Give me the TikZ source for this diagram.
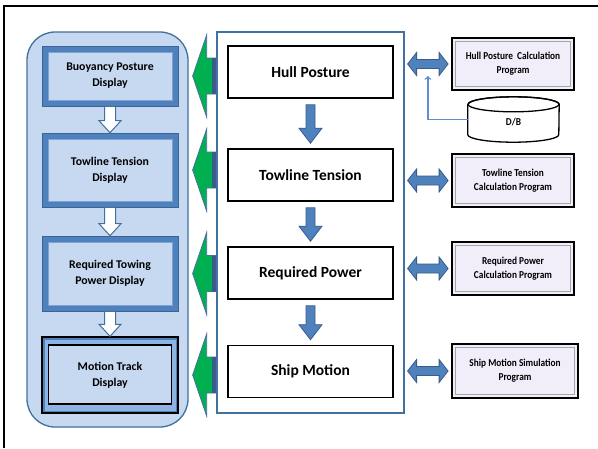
\documentclass[tikz,border=0pt]{standalone}
\usepackage{fontspec}
\setmainfont{Carlito}
\newfontfamily\narrowf[FakeStretch=0.88]{Carlito}
\usetikzlibrary{calc}
\definecolor{panelfill}{HTML}{C6D9F1}
\definecolor{panelline}{HTML}{41719C}
\definecolor{dispblue}{HTML}{4F81BD}
\definecolor{dispdark}{HTML}{3A6496}
\definecolor{innerline}{HTML}{7EA3D2}
\definecolor{bandlight}{HTML}{8DB4E2}
\definecolor{arrowblue}{HTML}{4F81BD}
\definecolor{arrowline}{HTML}{385D8A}
\definecolor{greenfill}{HTML}{00B050}
\definecolor{greenline}{HTML}{4A6FA0}
\definecolor{lav}{HTML}{F1EEF9}
\definecolor{lavline}{HTML}{A6A6A6}
\definecolor{linkblue}{HTML}{5B8FD0}

\newcommand\vblock[6]{\draw[#1] let \p1=#2, \p2=#3 in
  (\x1-#4,\y1) -- (\x1+#4,\y1) -- (\x1+#4,\y2+#6) -- (\x1+#5,\y2+#6) -- (\x1,\y2)
  -- (\x1-#5,\y2+#6) -- (\x1-#4,\y2+#6) -- cycle;}
\newcommand\hdbl[6]{\draw[#1] let \p1=#2, \p2=#3 in
  (\x1,\y1) -- (\x1+#6,\y1+#5) -- (\x1+#6,\y1+#4) -- (\x2-#6,\y1+#4) -- (\x2-#6,\y1+#5)
  -- (\x2,\y1) -- (\x2-#6,\y1-#5) -- (\x2-#6,\y1-#4) -- (\x1+#6,\y1-#4) -- (\x1+#6,\y1-#5) -- cycle;}
\newcommand\garrow[2]{%
  \draw[greenarrow] let \p1=#1, \p2=#2 in
  (\x1,\y1) -- (\x1+14pt,\y1+41pt) -- (\x1+14pt,\y1+18pt) -- (\x2,\y1+18pt)
  -- (\x2,\y1-18pt) -- (\x1+14pt,\y1-18pt) -- (\x1+14pt,\y1-41pt) -- cycle;
  \fill[arrowline] let \p1=#1, \p2=#2 in (\x2-4.5pt,\y1-18pt) rectangle (\x2,\y1+18pt);}

\begin{document}
\begin{tikzpicture}[x=1pt,y=-1pt,
  panel/.style={draw=panelline, line width=1.3pt, fill=panelfill, rounded corners=28pt, minimum width=161pt, minimum height=395pt, inner sep=0pt},
  cpanel/.style={draw=panelline, line width=1.2pt, fill=white, minimum width=187pt, minimum height=381pt, inner sep=0pt},
  disp/.style={draw=dispdark, line width=0.6pt, fill=dispblue, minimum width=136pt, inner sep=0pt, align=center,
    font=\fontsize{11.8}{16}\selectfont\bfseries,
    path picture={\draw[innerline, line width=0.8pt, fill=panelfill]
      ([shift={(6pt,-6pt)}]path picture bounding box.north west) rectangle
      ([shift={(-6pt,6pt)}]path picture bounding box.south east);}},
  dispb/.style={draw=black, line width=1.4pt, fill=dispblue, minimum width=136pt, inner sep=0pt, align=center,
    font=\fontsize{11.8}{16}\selectfont\bfseries,
    path picture={\fill[bandlight]
      ([shift={(2.5pt,-2.5pt)}]path picture bounding box.north west) rectangle
      ([shift={(-2.5pt,2.5pt)}]path picture bounding box.south east);
      \draw[black, line width=1.5pt, fill=panelfill]
      ([shift={(6.5pt,-8pt)}]path picture bounding box.north west) rectangle
      ([shift={(-6.5pt,9pt)}]path picture bounding box.south east);}},
  cbox/.style={draw=black, line width=1.6pt, fill=white, minimum width=165pt, minimum height=52pt, inner sep=0pt,
    font=\fontsize{15.5}{18}\selectfont\bfseries},
  rbox/.style={draw=black, line width=1.8pt, fill=lav, minimum width=122pt, inner sep=0pt, align=center,
    font=\narrowf\fontsize{10.6}{14}\selectfont\bfseries,
    path picture={\draw[lavline, line width=0.9pt]
      ([shift={(3.5pt,-3.5pt)}]path picture bounding box.north west) rectangle
      ([shift={(-3.5pt,3.5pt)}]path picture bounding box.south east);}},
  hollow/.style={draw=panelline, line width=1pt, fill=white},
  bluearrow/.style={draw=arrowline, line width=0.8pt, fill=arrowblue},
  greenarrow/.style={draw=greenline, line width=0.8pt, fill=greenfill},
  dbline/.style={draw=linkblue, line width=1.4pt}
]
\useasboundingbox (0,0) rectangle (598,448);
\fill[white] (0,0) rectangle (598,448);
\draw[line width=1.4pt] (4,448) -- (4,6) -- (598,6);

% panels
\node[panel] (lp) at (107.5,229.5) {};
\node[cpanel] (cp) at (310.5,222.5) {};

% display boxes
\node[disp, minimum height=60pt] (d1) at (110,76) {Buoyancy Posture\\Display};
\node[disp, minimum height=74pt] (d2) at (110,170) {Towline Tension\\Display};
\node[disp, minimum height=75pt] (d3) at (110,273.5) {Required Towing\\Power Display};
\node[dispb, minimum height=76pt] (d4) at (110,375) {Motion Track\\Display};

% central boxes
\node[cbox] (h1) at (310.5,72) {Hull Posture};
\node[cbox] (h2) at (310.5,175) {Towline Tension};
\node[cbox] (h3) at (310.5,273) {Required Power};
\node[cbox] (h4) at (310.5,371.5) {Ship Motion};

% right boxes
\node[rbox, minimum height=52pt] (r1) at (513,64) {Hull Posture\ \ Calculation\\Program};
\node[rbox, minimum height=53pt] (r2) at (513,180.5) {Towline Tension\\Calculation Program};
\node[rbox, minimum height=53pt] (r3) at (513,268.5) {Required Power\\Calculation Program};
\node[rbox, minimum height=54pt, minimum width=126pt] (r4) at (515,371) {Ship Motion Simulation\\Program};

% database cylinder
\node[minimum width=91pt, minimum height=30pt, inner sep=0pt] (db) at (513.5,119.5) {};
\draw[black, line width=1.3pt, fill=white] (db.north west) -- (db.south west)
  arc[start angle=180, end angle=360, x radius=45.5pt, y radius=7.5pt] -- (db.north east)
  arc[start angle=0, end angle=180, x radius=45.5pt, y radius=7.5pt];
\draw[black, line width=1.3pt] (db.north) ellipse[x radius=45.5pt, y radius=7.5pt];
\node[font=\narrowf\fontsize{10.6}{12}\selectfont\bfseries] (dbt) at ($(db.center)+(0,3)$) {D/B};

% hollow arrows between displays
\vblock{hollow}{(d1.south)}{(d2.north)}{5.5pt}{11pt}{12pt}
\vblock{hollow}{(d2.south)}{(d3.north)}{5.5pt}{11pt}{12pt}
\vblock{hollow}{(d3.south)}{(d4.north)}{5.5pt}{11pt}{12pt}

% blue arrows between central boxes
\vblock{bluearrow}{($(h1.south)+(0,6)$)}{($(h2.north)+(0,-5)$)}{4.5pt}{11.5pt}{15pt}
\vblock{bluearrow}{($(h2.south)+(0,6)$)}{($(h3.north)+(0,-5)$)}{4.5pt}{11.5pt}{15pt}
\vblock{bluearrow}{($(h3.south)+(0,6)$)}{($(h4.north)+(0,-5)$)}{4.5pt}{11.5pt}{15pt}

% green arrows
\garrow{($(lp.east |- d1.east)+(4,0)$)}{(cp.west |- d1.east)}
\garrow{($(lp.east |- d2.east)+(4,0)$)}{(cp.west |- d2.east)}
\garrow{($(lp.east |- d3.east)+(4,0)$)}{(cp.west |- d3.east)}
\garrow{($(lp.east |- d4.east)+(4,0)$)}{(cp.west |- d4.east)}

% double arrows
\hdbl{bluearrow}{($(cp.east |- r1.west)+(3,0)$)}{($(r1.west)+(-3,0)$)}{4.5pt}{11.5pt}{9pt}
\hdbl{bluearrow}{($(cp.east |- r2.west)+(3,0)$)}{($(r2.west)+(-3,0)$)}{4.5pt}{11.5pt}{9pt}
\hdbl{bluearrow}{($(cp.east |- r3.west)+(3,0)$)}{($(r3.west)+(-3,0)$)}{4.5pt}{11.5pt}{9pt}
\hdbl{bluearrow}{($(cp.east |- r4.west)+(3,0)$)}{($(r4.west)+(-3,0)$)}{4.5pt}{11.5pt}{9pt}

% D/B link
\coordinate (a1) at ($(cp.east |- r1.west)!0.5!(r1.west)$);
\coordinate (a1b) at ($(a1)+(0,12)$);
\draw[dbline, ->] (db.west) -| (a1b);
\end{tikzpicture}
\end{document}
